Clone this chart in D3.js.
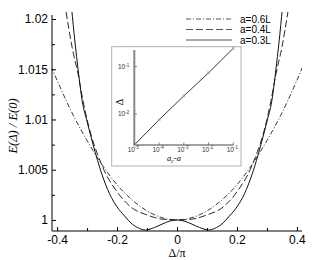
<!DOCTYPE html>
<html><head><meta charset="utf-8">
<script src="https://cdn.jsdelivr.net/npm/d3@7"></script>
<style>
html,body{margin:0;padding:0;background:#fff;}
svg{display:block;}
</style></head>
<body>
<svg id="chart" width="332" height="260"></svg>
<script>
// ---- main chart data (Δ/π , E(Δ)/E(0)) ----
const xs06 = [-0.42,-0.4,-0.35,-0.3,-0.25,-0.2,-0.15,-0.1,-0.05,0,0.05,0.1,0.15,0.2,0.25,0.3,0.35,0.4,0.42];
const ys06 = [1.0153,1.0139,1.01065,1.0079,1.0055,1.0035,1.0020,1.0009,1.00023,1.0,1.00023,1.0009,1.0020,1.0035,1.0055,1.0079,1.01065,1.0139,1.0153];

const xs04 = [-0.37,-0.35,-0.33,-0.313,-0.3,-0.25,-0.2,-0.15,-0.1,-0.05,0,0.05,0.1,0.15,0.2,0.25,0.3,0.313,0.33,0.35,0.37];
const ys04 = [1.0207,1.0172,1.0145,1.0118,1.0100,1.0054,1.0028,1.0012,1.0005,1.00008,1.0,1.00008,1.0005,1.0012,1.0028,1.0054,1.0100,1.0118,1.0145,1.0172,1.0207];

const xs03 = [-0.352,-0.34,-0.33,-0.316,-0.3,-0.28,-0.25,-0.225,-0.2,-0.175,-0.15,-0.125,-0.105,-0.075,-0.05,-0.025,0,0.025,0.05,0.075,0.105,0.125,0.15,0.175,0.2,0.225,0.25,0.28,0.3,0.316,0.33,0.34,0.352];
const ys03 = [1.0212,1.0176,1.0150,1.0118,1.0098,1.0075,1.0045,1.0026,1.0013,1.0004,0.9996,0.99915,0.9990,0.99925,0.99958,0.99988,1.0,0.99988,0.99958,0.99925,0.9990,0.99915,0.9996,1.0004,1.0013,1.0026,1.0045,1.0075,1.0098,1.0118,1.0150,1.0176,1.0212];

const seriesNames = ["a=0.6L","a=0.4L","a=0.3L"];
const xTickMajor = [-0.4,-0.2,0,0.2,0.4];
const xTickMinor = [-0.3,-0.1,0.1,0.3];
const yTickMajor = [1,1.005,1.01,1.015,1.02];
const yTickMinor = [1.0025,1.0075,1.0125,1.0175];

// ---- inset data ----
const insetX = [1e-5,1e-4,1e-3,1e-2,1e-1];
const insetY = [0.0022,0.0075,0.024,0.074,0.245];
const insetXTicks = [1e-5,1e-4,1e-3,1e-2,1e-1];
const insetXTickExp = ["-5","-4","-3","-2","-1"];
const insetYTicks = [1e-1,1e-2];
const insetYTickExp = ["-1","-2"];

const svg = d3.select("#chart");
const L=52,R=302,T=15,B=231;
const x = d3.scaleLinear().domain([-0.417,0.417]).range([L,R]);
const y = d3.scaleLinear().domain([0.9989,1.0204]).range([B,T]);

svg.append("defs").append("clipPath").attr("id","clipMain")
  .append("rect").attr("x",L).attr("y",12).attr("width",R-L).attr("height",B-12);

const styles = [
  {xs:xs06, ys:ys06, dash:"5,2,1,2", color:"#3a3a3a"},
  {xs:xs04, ys:ys04, dash:"7,3", color:"#2a2a2a"},
  {xs:xs03, ys:ys03, dash:null, color:"#111"}
];
const line = d3.line().curve(d3.curveMonotoneX);
const g = svg.append("g").attr("clip-path","url(#clipMain)");
styles.forEach(s=>{
  const pts = s.xs.map((v,i)=>[x(v), y(s.ys[i])]);
  g.append("path").attr("d",line(pts)).attr("fill","none")
   .attr("stroke",s.color).attr("stroke-width",1)
   .attr("stroke-dasharray",s.dash);
});

// axes
const fmtX = d=> d===0?"0":d3.format(".1f")(d).replace("−","-");
const xAxis = d3.axisBottom(x).tickValues(xTickMajor).tickSize(-4).tickPadding(4).tickFormat(fmtX);
const gx = svg.append("g").attr("transform",`translate(0,${B})`).call(xAxis);
gx.select(".domain").attr("d",`M${L},0H${R}`);
const xAxisMinor = d3.axisBottom(x).tickValues(xTickMinor).tickSize(-3).tickFormat("");
const gxm = svg.append("g").attr("transform",`translate(0,${B})`).call(xAxisMinor);
gxm.select(".domain").remove();

const fmtY = d=> d===1?"1":String(+d.toFixed(3));
const yAxis = d3.axisLeft(y).tickValues(yTickMajor).tickSize(-4).tickPadding(4).tickFormat(fmtY);
const gy = svg.append("g").attr("transform",`translate(${L},0)`).call(yAxis);
gy.select(".domain").attr("d",`M0,${T}V${B}`);
const yAxisMinor = d3.axisLeft(y).tickValues(yTickMinor).tickSize(-3).tickFormat("");
const gym = svg.append("g").attr("transform",`translate(${L},0)`).call(yAxisMinor);
gym.select(".domain").remove();

svg.selectAll(".tick text").attr("font-family","'Liberation Sans',Arial,sans-serif").attr("font-size",12).attr("fill","#000");
svg.selectAll(".domain, .tick line").attr("stroke","#000");

// axis titles
svg.append("text").attr("transform","translate(17,126) rotate(-90)")
  .attr("text-anchor","middle").attr("font-family","'Liberation Serif','Times New Roman',serif")
  .attr("font-style","italic").attr("font-size",12.5).text("E(Δ) / E(0)");
svg.append("text").attr("x",177).attr("y",257).attr("text-anchor","middle")
  .attr("font-family","'Liberation Serif','Times New Roman',serif").attr("font-size",12).text("Δ/π");

// legend
const legY=[19,29.5,40];
seriesNames.forEach((n,i)=>{
  svg.append("line").attr("x1",186).attr("x2",232).attr("y1",legY[i]).attr("y2",legY[i])
    .attr("stroke","#555").attr("stroke-width",1).attr("stroke-dasharray",styles[i].dash);
  svg.append("text").attr("x",240).attr("y",legY[i]+3.5)
    .attr("font-family","'Liberation Sans',Arial,sans-serif").attr("font-size",10).text(n);
});

// ---- inset ----
const ib = {x:111.7,y:46.7,w:129.3,h:119.3};
svg.append("rect").attr("x",ib.x).attr("y",ib.y).attr("width",ib.w).attr("height",ib.h)
  .attr("fill","#fff").attr("stroke","#b0b0b0").attr("stroke-width",1);
const ix = d3.scaleLog().domain([1e-5,1e-1]).range([134.3,233.3]);
const iy = d3.scaleLog().domain([0.0022,0.225]).range([145,50]);

const gi = svg.append("g");
gi.append("line").attr("x1",ix(1e-5)).attr("x2",ix(1e-1)).attr("y1",145).attr("y2",145).attr("stroke","#444").attr("stroke-width",1);
gi.append("line").attr("x1",134.3).attr("x2",134.3).attr("y1",50).attr("y2",145).attr("stroke","#888").attr("stroke-width",2);
insetXTicks.forEach((t,i)=>{
  gi.append("line").attr("x1",ix(t)).attr("x2",ix(t)).attr("y1",145).attr("y2",142.5).attr("stroke","#666").attr("stroke-width",0.8);
  const tx = gi.append("text").attr("x",ix(t)-1).attr("y",151.5).attr("text-anchor","middle")
    .attr("font-family","'Liberation Sans',Arial,sans-serif").attr("font-size",6.5).attr("fill","#333");
  tx.append("tspan").text("10");
  tx.append("tspan").attr("dy",-2.5).attr("font-size",4.5).text(insetXTickExp[i]);
});
insetYTicks.forEach((t,i)=>{
  gi.append("line").attr("x1",134.3).attr("x2",137).attr("y1",iy(t)).attr("y2",iy(t)).attr("stroke","#666").attr("stroke-width",0.8);
  const ty = gi.append("text").attr("x",118).attr("y",iy(t)+2.5)
    .attr("font-family","'Liberation Sans',Arial,sans-serif").attr("font-size",6.5).attr("fill","#333");
  ty.append("tspan").text("10");
  ty.append("tspan").attr("dy",-2.5).attr("font-size",4.5).text(insetYTickExp[i]);
});
const ipts = insetX.map((v,i)=>[ix(v), iy(insetY[i])]);
gi.append("path").attr("d",d3.line()(ipts)).attr("fill","none").attr("stroke","#222").attr("stroke-width",0.9);
gi.selectAll("rect.pt").data(ipts).enter().append("rect").attr("class","pt")
  .attr("x",d=>d[0]-1).attr("y",d=>d[1]-1).attr("width",2).attr("height",2)
  .attr("fill","none").attr("stroke","#aaa").attr("stroke-width",0.6);
gi.append("text").attr("transform","translate(123,102) rotate(-90)").attr("text-anchor","middle")
  .attr("font-family","'Liberation Serif','Times New Roman',serif").attr("font-size",10).text("Δ");
const al = gi.append("text").attr("x",174).attr("y",161).attr("text-anchor","middle")
  .attr("font-family","'Liberation Serif','Times New Roman',serif").attr("font-style","italic").attr("font-size",8.5);
al.append("tspan").text("a");
al.append("tspan").attr("dy",2).attr("font-size",5.5).text("c");
al.append("tspan").attr("dy",-2).text("-a");
</script>
</body></html>
